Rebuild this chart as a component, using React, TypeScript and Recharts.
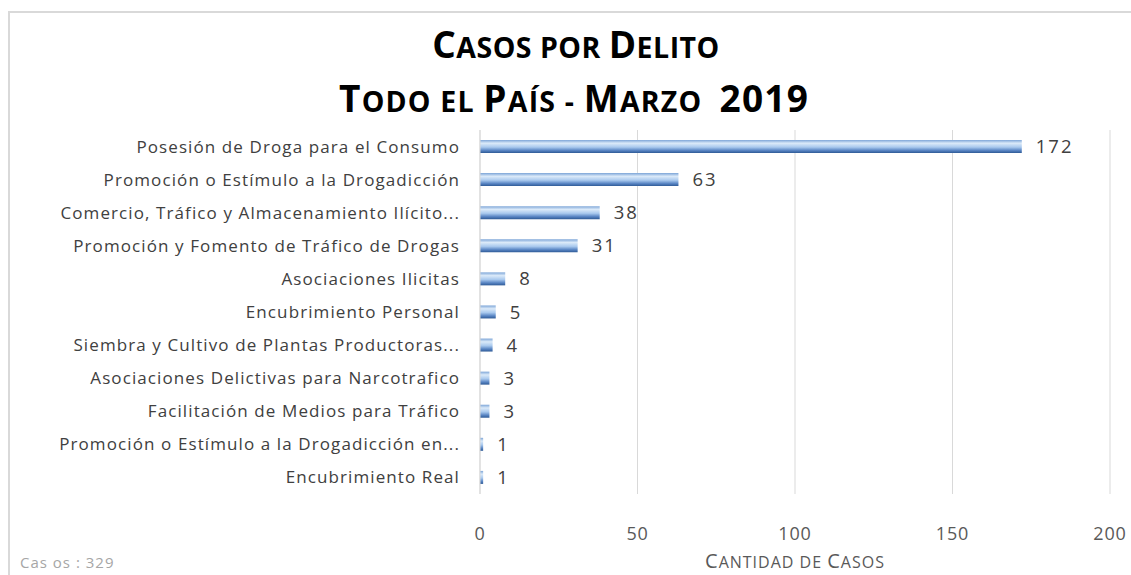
import React from "react";
import { BarChart, Bar, XAxis, YAxis, CartesianGrid, LabelList } from "recharts";

const categories = [
  "Posesión de Droga para el Consumo",
  "Promoción o Estímulo a la Drogadicción",
  "Comercio, Tráfico y Almacenamiento Ilícito...",
  "Promoción y Fomento de Tráfico de Drogas",
  "Asociaciones Ilicitas",
  "Encubrimiento Personal",
  "Siembra y Cultivo de Plantas Productoras...",
  "Asociaciones Delictivas para Narcotrafico",
  "Facilitación de Medios para Tráfico",
  "Promoción o Estímulo a la Drogadicción en...",
  "Encubrimiento Real",
];
const casos = [172, 63, 38, 31, 8, 5, 4, 3, 3, 1, 1];
const xTicks = [0, 50, 100, 150, 200];

const data = categories.map((c, i) => ({ name: c, value: casos[i] }));

const FONT = "'Open Sans', 'DejaVu Sans', sans-serif";

const XLabel = (props: any) => {
  const vb = props.viewBox || {};
  const cx = vb.x + vb.width / 2;
  return (
    <text x={cx} y={568} textAnchor="middle" fill="#595959" fontFamily={FONT} letterSpacing={1} style={{ whiteSpace: "pre" }}>
      <tspan fontSize={20}>C</tspan>
      <tspan fontSize={16}>ANTIDAD DE </tspan>
      <tspan fontSize={20}>C</tspan>
      <tspan fontSize={16}>ASOS</tspan>
    </text>
  );
};

export default function App() {
  return (
    <div style={{ position: "fixed", left: 0, top: 0, width: 1131, height: 575, background: "#fff", overflow: "hidden" }}>
      <div
        style={{
          position: "absolute",
          left: 8,
          top: 11,
          width: 1200,
          height: 700,
          borderLeft: "2px solid #d9d9d9",
          borderTop: "2px solid #d9d9d9",
        }}
      />
      <BarChart
        width={1131}
        height={575}
        data={data}
        layout="vertical"
        margin={{ top: 130, right: 21, bottom: 0, left: 0 }}
        barCategoryGap={0}
      >
        <defs>
          <linearGradient id="barGrad" x1="0" y1="0" x2="0" y2="1">
            <stop offset="0%" stopColor="#7ea6d8" />
            <stop offset="25%" stopColor="#dbeaf9" />
            <stop offset="55%" stopColor="#a9c9ee" />
            <stop offset="80%" stopColor="#5a86c4" />
            <stop offset="100%" stopColor="#2e5a96" />
          </linearGradient>
        </defs>
        <text x={576} y={58} textAnchor="middle" fontFamily={FONT} fontWeight={700} fill="#000" letterSpacing={0.5} style={{ whiteSpace: "pre" }}>
          <tspan fontSize={37}>C</tspan>
          <tspan fontSize={28.5}>ASOS POR </tspan>
          <tspan fontSize={37}>D</tspan>
          <tspan fontSize={28.5}>ELITO</tspan>
        </text>
        <text x={574} y={112} textAnchor="middle" fontFamily={FONT} fontWeight={700} fill="#000" letterSpacing={1.2} style={{ whiteSpace: "pre" }}>
          <tspan fontSize={37}>T</tspan>
          <tspan fontSize={28.5}>ODO EL </tspan>
          <tspan fontSize={37}>P</tspan>
          <tspan fontSize={28.5}>AÍS - </tspan>
          <tspan fontSize={37}>M</tspan>
          <tspan fontSize={28.5}>ARZO  </tspan>
          <tspan fontSize={37}>2019</tspan>
        </text>
        <text x={20} y={568} fontFamily={FONT} fontSize={15} fill="#a6a6a6" letterSpacing={1} style={{ whiteSpace: "pre" }}>
          Cas os : 329
        </text>
        <CartesianGrid horizontal={false} stroke="#d9d9d9" />
        <XAxis
          type="number"
          domain={[0, 200]}
          ticks={xTicks}
          axisLine={false}
          tickLine={false}
          tickSize={0}
          tickMargin={33}
          height={81}
          tick={{ fill: "#595959", fontSize: 18, fontFamily: FONT, letterSpacing: 0.8 }}
          label={<XLabel />}
        />
        <YAxis
          type="category"
          dataKey="name"
          width={480}
          axisLine={{ stroke: "#d9d9d9" }}
          tickLine={false}
          tickSize={0}
          tickMargin={20}
          interval={0}
          tick={{ fill: "#404040", fontSize: 17, fontFamily: FONT, letterSpacing: 1.1 }}
        />
        <Bar dataKey="value" fill="url(#barGrad)" barSize={13} isAnimationActive={false}>
          <LabelList
            dataKey="value"
            position="right"
            offset={14}
            fill="#404040"
            fontSize={18.5}
            fontFamily={FONT}
            style={{ letterSpacing: 2 }}
          />
        </Bar>
      </BarChart>
    </div>
  );
}
